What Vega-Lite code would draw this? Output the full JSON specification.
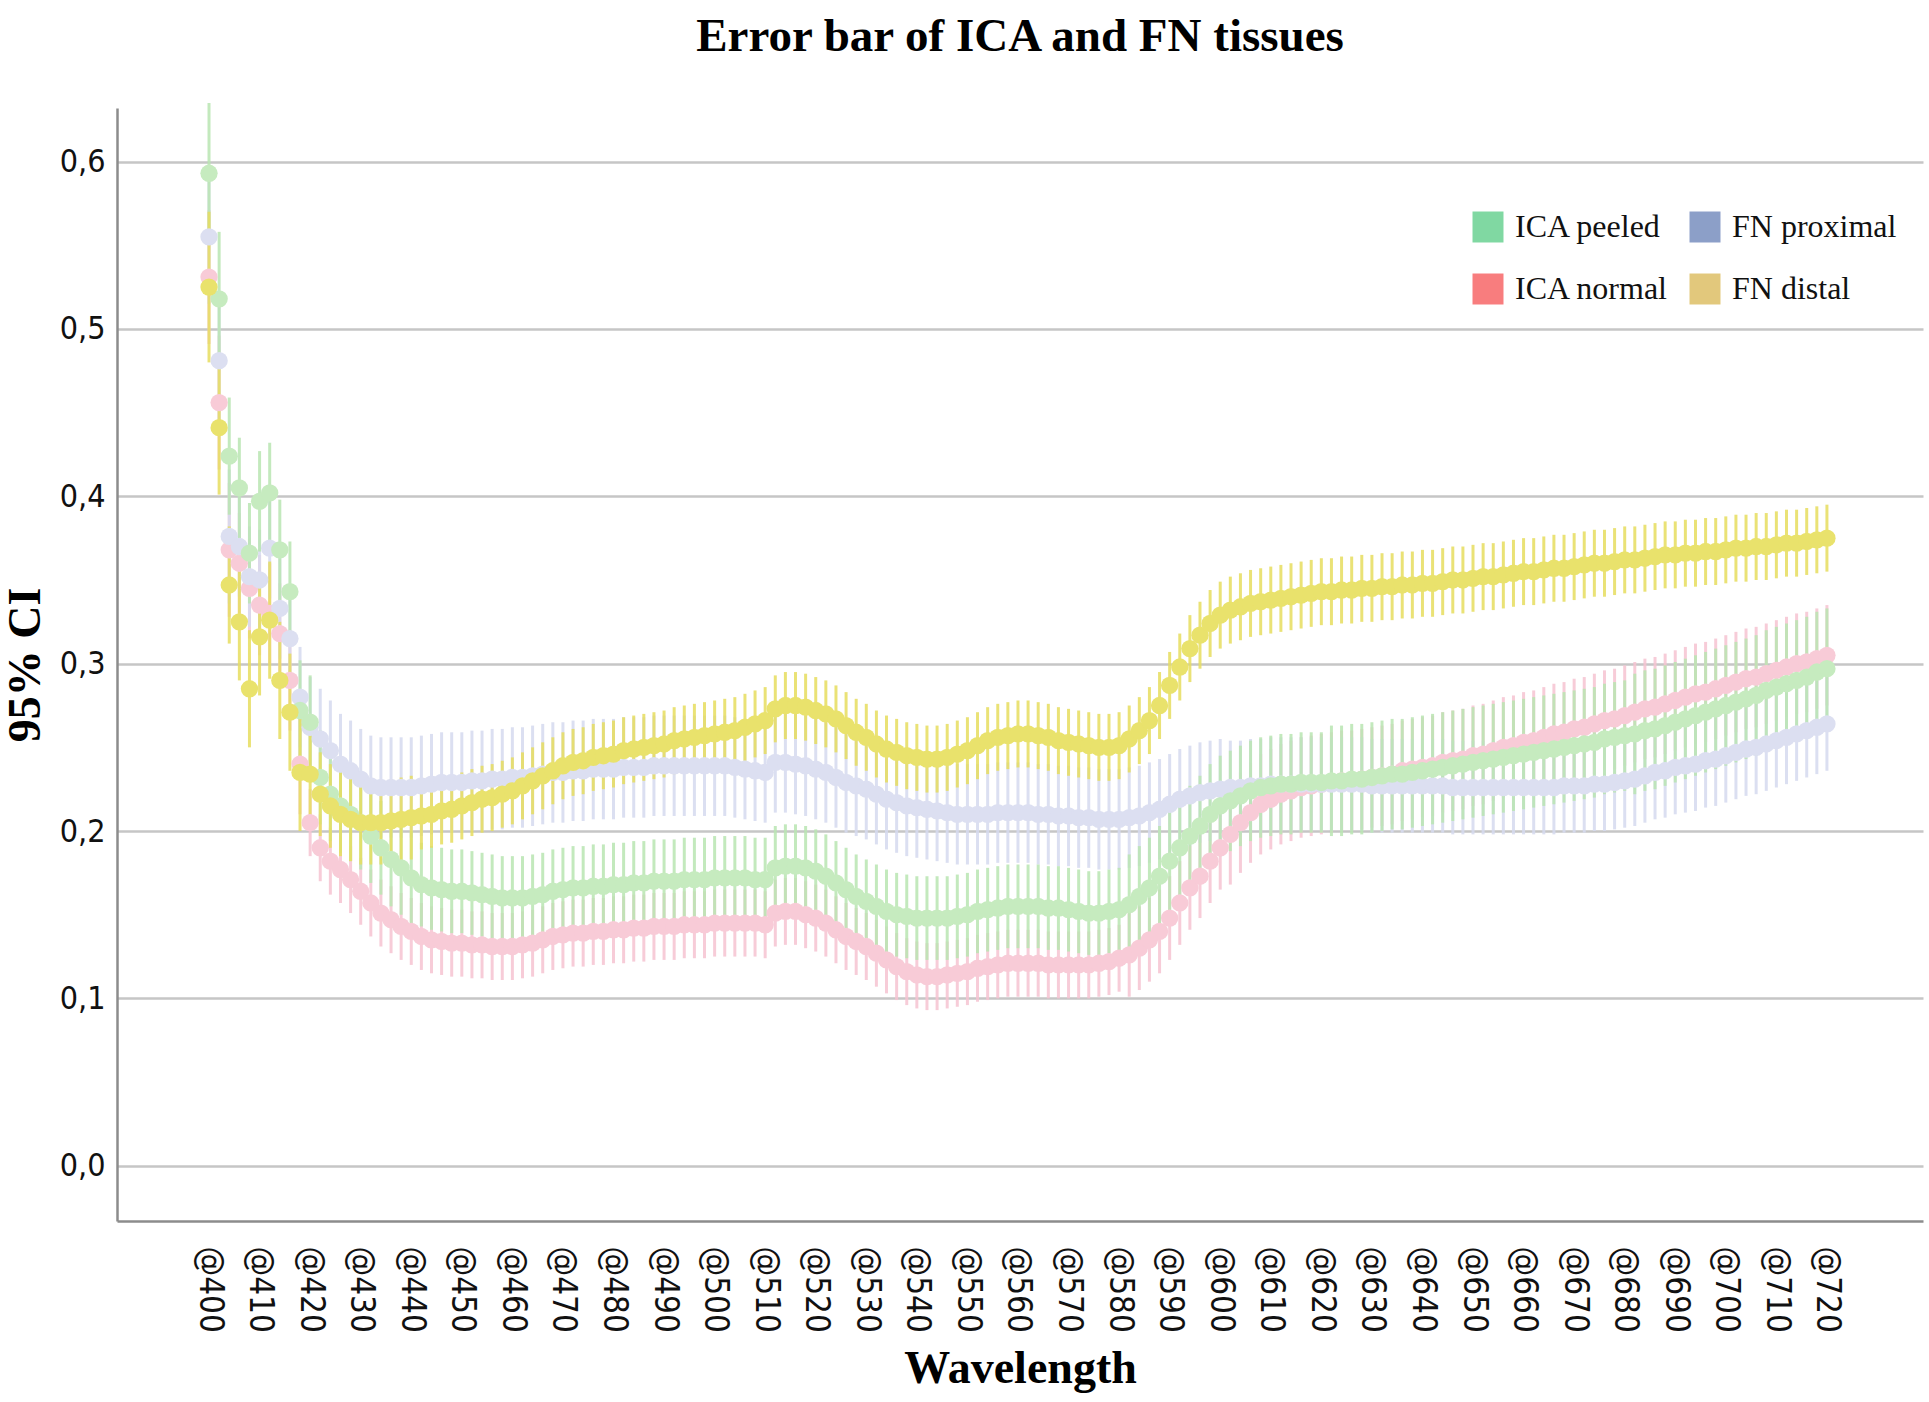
{
  "$schema": "https://vega.github.io/schema/vega-lite/v6.json",
  "width": 1806,
  "height": 1113,
  "autosize": {"type": "none"},
  "padding": {"left": 117, "top": 108, "right": 6, "bottom": 181},
  "background": "white",
  "title": {
    "text": "Error bar of ICA and FN tissues",
    "font": "Liberation Serif",
    "fontSize": 47,
    "fontWeight": "bold",
    "color": "#000000",
    "anchor": "middle",
    "offset": 40
  },
  "config": {
    "view": {"stroke": null},
    "axis": {
      "domainColor": "#8c8c8c",
      "domainWidth": 2.5,
      "ticks": false,
      "labelColor": "#111111",
      "labelFont": "Liberation Sans Narrow, DejaVu Sans Condensed, sans-serif",
      "labelFontSize": 33,
      "titleFont": "Liberation Serif",
      "titleFontSize": 46,
      "titleFontWeight": "bold",
      "titleColor": "#000000"
    }
  },
  "data": {"values": [
    {"w":400,"s":"ICA normal","m":0.531,"e":0.04},{"w":402,"s":"ICA normal","m":0.456,"e":0.04},{"w":404,"s":"ICA normal","m":0.368,"e":0.04},{"w":406,"s":"ICA normal","m":0.36,"e":0.03},{"w":408,"s":"ICA normal","m":0.345,"e":0.03},{"w":410,"s":"ICA normal","m":0.335,"e":0.03},{"w":412,"s":"ICA normal","m":0.33,"e":0.03},{"w":414,"s":"ICA normal","m":0.318,"e":0.03},{"w":416,"s":"ICA normal","m":0.29,"e":0.03},{"w":418,"s":"ICA normal","m":0.24,"e":0.03},
    {"w":420,"s":"ICA normal","m":0.205,"e":0.02},{"w":422,"s":"ICA normal","m":0.19,"e":0.02},{"w":424,"s":"ICA normal","m":0.182,"e":0.02},{"w":426,"s":"ICA normal","m":0.177,"e":0.02},{"w":428,"s":"ICA normal","m":0.171,"e":0.02},{"w":430,"s":"ICA normal","m":0.164,"e":0.02},{"w":432,"s":"ICA normal","m":0.157,"e":0.02},{"w":434,"s":"ICA normal","m":0.151,"e":0.02},{"w":436,"s":"ICA normal","m":0.147,"e":0.02},{"w":438,"s":"ICA normal","m":0.143,"e":0.02},
    {"w":440,"s":"ICA normal","m":0.14,"e":0.02},{"w":442,"s":"ICA normal","m":0.137,"e":0.02},{"w":444,"s":"ICA normal","m":0.135,"e":0.02},{"w":446,"s":"ICA normal","m":0.134,"e":0.02},{"w":448,"s":"ICA normal","m":0.133,"e":0.02},{"w":450,"s":"ICA normal","m":0.133,"e":0.02},{"w":452,"s":"ICA normal","m":0.132,"e":0.02},{"w":454,"s":"ICA normal","m":0.132,"e":0.02},{"w":456,"s":"ICA normal","m":0.131,"e":0.02},{"w":458,"s":"ICA normal","m":0.131,"e":0.02},
    {"w":460,"s":"ICA normal","m":0.131,"e":0.02},{"w":462,"s":"ICA normal","m":0.132,"e":0.02},{"w":464,"s":"ICA normal","m":0.133,"e":0.02},{"w":466,"s":"ICA normal","m":0.135,"e":0.02},{"w":468,"s":"ICA normal","m":0.137,"e":0.02},{"w":470,"s":"ICA normal","m":0.138,"e":0.02},{"w":472,"s":"ICA normal","m":0.139,"e":0.02},{"w":474,"s":"ICA normal","m":0.139,"e":0.02},{"w":476,"s":"ICA normal","m":0.14,"e":0.02},{"w":478,"s":"ICA normal","m":0.14,"e":0.02},
    {"w":480,"s":"ICA normal","m":0.141,"e":0.02},{"w":482,"s":"ICA normal","m":0.141,"e":0.02},{"w":484,"s":"ICA normal","m":0.142,"e":0.02},{"w":486,"s":"ICA normal","m":0.142,"e":0.02},{"w":488,"s":"ICA normal","m":0.143,"e":0.02},{"w":490,"s":"ICA normal","m":0.143,"e":0.02},{"w":492,"s":"ICA normal","m":0.143,"e":0.02},{"w":494,"s":"ICA normal","m":0.144,"e":0.02},{"w":496,"s":"ICA normal","m":0.144,"e":0.02},{"w":498,"s":"ICA normal","m":0.144,"e":0.02},
    {"w":500,"s":"ICA normal","m":0.145,"e":0.02},{"w":502,"s":"ICA normal","m":0.145,"e":0.02},{"w":504,"s":"ICA normal","m":0.145,"e":0.02},{"w":506,"s":"ICA normal","m":0.145,"e":0.02},{"w":508,"s":"ICA normal","m":0.145,"e":0.02},{"w":510,"s":"ICA normal","m":0.144,"e":0.02},{"w":512,"s":"ICA normal","m":0.151,"e":0.02},{"w":514,"s":"ICA normal","m":0.152,"e":0.02},{"w":516,"s":"ICA normal","m":0.152,"e":0.02},{"w":518,"s":"ICA normal","m":0.15,"e":0.02},
    {"w":520,"s":"ICA normal","m":0.148,"e":0.02},{"w":522,"s":"ICA normal","m":0.145,"e":0.02},{"w":524,"s":"ICA normal","m":0.141,"e":0.02},{"w":526,"s":"ICA normal","m":0.137,"e":0.02},{"w":528,"s":"ICA normal","m":0.134,"e":0.02},{"w":530,"s":"ICA normal","m":0.131,"e":0.02},{"w":532,"s":"ICA normal","m":0.127,"e":0.02},{"w":534,"s":"ICA normal","m":0.123,"e":0.02},{"w":536,"s":"ICA normal","m":0.119,"e":0.02},{"w":538,"s":"ICA normal","m":0.116,"e":0.02},
    {"w":540,"s":"ICA normal","m":0.114,"e":0.02},{"w":542,"s":"ICA normal","m":0.113,"e":0.02},{"w":544,"s":"ICA normal","m":0.113,"e":0.02},{"w":546,"s":"ICA normal","m":0.114,"e":0.02},{"w":548,"s":"ICA normal","m":0.115,"e":0.02},{"w":550,"s":"ICA normal","m":0.116,"e":0.02},{"w":552,"s":"ICA normal","m":0.118,"e":0.02},{"w":554,"s":"ICA normal","m":0.119,"e":0.02},{"w":556,"s":"ICA normal","m":0.12,"e":0.02},{"w":558,"s":"ICA normal","m":0.121,"e":0.02},
    {"w":560,"s":"ICA normal","m":0.121,"e":0.02},{"w":562,"s":"ICA normal","m":0.121,"e":0.02},{"w":564,"s":"ICA normal","m":0.121,"e":0.02},{"w":566,"s":"ICA normal","m":0.12,"e":0.02},{"w":568,"s":"ICA normal","m":0.12,"e":0.02},{"w":570,"s":"ICA normal","m":0.12,"e":0.02},{"w":572,"s":"ICA normal","m":0.12,"e":0.02},{"w":574,"s":"ICA normal","m":0.12,"e":0.02},{"w":576,"s":"ICA normal","m":0.121,"e":0.02},{"w":578,"s":"ICA normal","m":0.122,"e":0.02},
    {"w":580,"s":"ICA normal","m":0.124,"e":0.02},{"w":582,"s":"ICA normal","m":0.126,"e":0.025},{"w":584,"s":"ICA normal","m":0.13,"e":0.025},{"w":586,"s":"ICA normal","m":0.135,"e":0.025},{"w":588,"s":"ICA normal","m":0.14,"e":0.025},{"w":590,"s":"ICA normal","m":0.148,"e":0.025},{"w":592,"s":"ICA normal","m":0.157,"e":0.025},{"w":594,"s":"ICA normal","m":0.166,"e":0.025},{"w":596,"s":"ICA normal","m":0.173,"e":0.025},{"w":598,"s":"ICA normal","m":0.182,"e":0.025},
    {"w":600,"s":"ICA normal","m":0.19,"e":0.025},{"w":602,"s":"ICA normal","m":0.198,"e":0.03},{"w":604,"s":"ICA normal","m":0.205,"e":0.03},{"w":606,"s":"ICA normal","m":0.211,"e":0.03},{"w":608,"s":"ICA normal","m":0.216,"e":0.03},{"w":610,"s":"ICA normal","m":0.219,"e":0.03},{"w":612,"s":"ICA normal","m":0.222,"e":0.03},{"w":614,"s":"ICA normal","m":0.224,"e":0.03},{"w":616,"s":"ICA normal","m":0.226,"e":0.03},{"w":618,"s":"ICA normal","m":0.227,"e":0.03},
    {"w":620,"s":"ICA normal","m":0.228,"e":0.03},{"w":622,"s":"ICA normal","m":0.229,"e":0.03},{"w":624,"s":"ICA normal","m":0.23,"e":0.03},{"w":626,"s":"ICA normal","m":0.23,"e":0.03},{"w":628,"s":"ICA normal","m":0.231,"e":0.03},{"w":630,"s":"ICA normal","m":0.232,"e":0.03},{"w":632,"s":"ICA normal","m":0.233,"e":0.03},{"w":634,"s":"ICA normal","m":0.234,"e":0.03},{"w":636,"s":"ICA normal","m":0.236,"e":0.03},{"w":638,"s":"ICA normal","m":0.237,"e":0.03},
    {"w":640,"s":"ICA normal","m":0.238,"e":0.03},{"w":642,"s":"ICA normal","m":0.239,"e":0.03},{"w":644,"s":"ICA normal","m":0.241,"e":0.03},{"w":646,"s":"ICA normal","m":0.242,"e":0.03},{"w":648,"s":"ICA normal","m":0.243,"e":0.03},{"w":650,"s":"ICA normal","m":0.245,"e":0.03},{"w":652,"s":"ICA normal","m":0.246,"e":0.03},{"w":654,"s":"ICA normal","m":0.248,"e":0.03},{"w":656,"s":"ICA normal","m":0.25,"e":0.03},{"w":658,"s":"ICA normal","m":0.251,"e":0.03},
    {"w":660,"s":"ICA normal","m":0.253,"e":0.03},{"w":662,"s":"ICA normal","m":0.254,"e":0.03},{"w":664,"s":"ICA normal","m":0.256,"e":0.03},{"w":666,"s":"ICA normal","m":0.258,"e":0.03},{"w":668,"s":"ICA normal","m":0.259,"e":0.03},{"w":670,"s":"ICA normal","m":0.261,"e":0.03},{"w":672,"s":"ICA normal","m":0.262,"e":0.03},{"w":674,"s":"ICA normal","m":0.264,"e":0.03},{"w":676,"s":"ICA normal","m":0.266,"e":0.03},{"w":678,"s":"ICA normal","m":0.267,"e":0.03},
    {"w":680,"s":"ICA normal","m":0.269,"e":0.03},{"w":682,"s":"ICA normal","m":0.271,"e":0.03},{"w":684,"s":"ICA normal","m":0.273,"e":0.03},{"w":686,"s":"ICA normal","m":0.274,"e":0.03},{"w":688,"s":"ICA normal","m":0.276,"e":0.03},{"w":690,"s":"ICA normal","m":0.278,"e":0.03},{"w":692,"s":"ICA normal","m":0.28,"e":0.03},{"w":694,"s":"ICA normal","m":0.282,"e":0.03},{"w":696,"s":"ICA normal","m":0.283,"e":0.03},{"w":698,"s":"ICA normal","m":0.285,"e":0.03},
    {"w":700,"s":"ICA normal","m":0.287,"e":0.03},{"w":702,"s":"ICA normal","m":0.289,"e":0.03},{"w":704,"s":"ICA normal","m":0.291,"e":0.03},{"w":706,"s":"ICA normal","m":0.292,"e":0.03},{"w":708,"s":"ICA normal","m":0.294,"e":0.03},{"w":710,"s":"ICA normal","m":0.296,"e":0.03},{"w":712,"s":"ICA normal","m":0.298,"e":0.03},{"w":714,"s":"ICA normal","m":0.3,"e":0.03},{"w":716,"s":"ICA normal","m":0.301,"e":0.03},{"w":718,"s":"ICA normal","m":0.303,"e":0.03},
    {"w":720,"s":"ICA normal","m":0.305,"e":0.03},

    {"w":400,"s":"FN proximal","m":0.555,"e":0.04},{"w":402,"s":"FN proximal","m":0.481,"e":0.04},{"w":404,"s":"FN proximal","m":0.376,"e":0.04},{"w":406,"s":"FN proximal","m":0.37,"e":0.03},{"w":408,"s":"FN proximal","m":0.352,"e":0.03},{"w":410,"s":"FN proximal","m":0.35,"e":0.03},{"w":412,"s":"FN proximal","m":0.369,"e":0.03},{"w":414,"s":"FN proximal","m":0.333,"e":0.03},{"w":416,"s":"FN proximal","m":0.315,"e":0.03},{"w":418,"s":"FN proximal","m":0.28,"e":0.03},
    {"w":420,"s":"FN proximal","m":0.262,"e":0.03},{"w":422,"s":"FN proximal","m":0.255,"e":0.03},{"w":424,"s":"FN proximal","m":0.248,"e":0.03},{"w":426,"s":"FN proximal","m":0.24,"e":0.03},{"w":428,"s":"FN proximal","m":0.236,"e":0.03},{"w":430,"s":"FN proximal","m":0.231,"e":0.03},{"w":432,"s":"FN proximal","m":0.227,"e":0.03},{"w":434,"s":"FN proximal","m":0.226,"e":0.03},{"w":436,"s":"FN proximal","m":0.226,"e":0.03},{"w":438,"s":"FN proximal","m":0.226,"e":0.03},
    {"w":440,"s":"FN proximal","m":0.226,"e":0.03},{"w":442,"s":"FN proximal","m":0.227,"e":0.03},{"w":444,"s":"FN proximal","m":0.228,"e":0.03},{"w":446,"s":"FN proximal","m":0.229,"e":0.03},{"w":448,"s":"FN proximal","m":0.229,"e":0.03},{"w":450,"s":"FN proximal","m":0.229,"e":0.03},{"w":452,"s":"FN proximal","m":0.23,"e":0.03},{"w":454,"s":"FN proximal","m":0.23,"e":0.03},{"w":456,"s":"FN proximal","m":0.231,"e":0.03},{"w":458,"s":"FN proximal","m":0.231,"e":0.03},
    {"w":460,"s":"FN proximal","m":0.232,"e":0.03},{"w":462,"s":"FN proximal","m":0.232,"e":0.03},{"w":464,"s":"FN proximal","m":0.233,"e":0.03},{"w":466,"s":"FN proximal","m":0.234,"e":0.03},{"w":468,"s":"FN proximal","m":0.235,"e":0.03},{"w":470,"s":"FN proximal","m":0.235,"e":0.03},{"w":472,"s":"FN proximal","m":0.236,"e":0.03},{"w":474,"s":"FN proximal","m":0.236,"e":0.03},{"w":476,"s":"FN proximal","m":0.237,"e":0.03},{"w":478,"s":"FN proximal","m":0.237,"e":0.03},
    {"w":480,"s":"FN proximal","m":0.237,"e":0.03},{"w":482,"s":"FN proximal","m":0.238,"e":0.03},{"w":484,"s":"FN proximal","m":0.238,"e":0.03},{"w":486,"s":"FN proximal","m":0.238,"e":0.03},{"w":488,"s":"FN proximal","m":0.239,"e":0.03},{"w":490,"s":"FN proximal","m":0.239,"e":0.03},{"w":492,"s":"FN proximal","m":0.239,"e":0.03},{"w":494,"s":"FN proximal","m":0.239,"e":0.03},{"w":496,"s":"FN proximal","m":0.239,"e":0.03},{"w":498,"s":"FN proximal","m":0.239,"e":0.03},
    {"w":500,"s":"FN proximal","m":0.239,"e":0.03},{"w":502,"s":"FN proximal","m":0.239,"e":0.03},{"w":504,"s":"FN proximal","m":0.238,"e":0.03},{"w":506,"s":"FN proximal","m":0.237,"e":0.03},{"w":508,"s":"FN proximal","m":0.236,"e":0.03},{"w":510,"s":"FN proximal","m":0.235,"e":0.03},{"w":512,"s":"FN proximal","m":0.241,"e":0.03},{"w":514,"s":"FN proximal","m":0.241,"e":0.03},{"w":516,"s":"FN proximal","m":0.24,"e":0.03},{"w":518,"s":"FN proximal","m":0.239,"e":0.03},
    {"w":520,"s":"FN proximal","m":0.237,"e":0.03},{"w":522,"s":"FN proximal","m":0.235,"e":0.03},{"w":524,"s":"FN proximal","m":0.232,"e":0.03},{"w":526,"s":"FN proximal","m":0.229,"e":0.03},{"w":528,"s":"FN proximal","m":0.227,"e":0.03},{"w":530,"s":"FN proximal","m":0.225,"e":0.03},{"w":532,"s":"FN proximal","m":0.222,"e":0.03},{"w":534,"s":"FN proximal","m":0.219,"e":0.03},{"w":536,"s":"FN proximal","m":0.217,"e":0.03},{"w":538,"s":"FN proximal","m":0.215,"e":0.03},
    {"w":540,"s":"FN proximal","m":0.214,"e":0.03},{"w":542,"s":"FN proximal","m":0.213,"e":0.03},{"w":544,"s":"FN proximal","m":0.212,"e":0.03},{"w":546,"s":"FN proximal","m":0.211,"e":0.03},{"w":548,"s":"FN proximal","m":0.21,"e":0.03},{"w":550,"s":"FN proximal","m":0.21,"e":0.03},{"w":552,"s":"FN proximal","m":0.21,"e":0.03},{"w":554,"s":"FN proximal","m":0.21,"e":0.03},{"w":556,"s":"FN proximal","m":0.211,"e":0.03},{"w":558,"s":"FN proximal","m":0.211,"e":0.03},
    {"w":560,"s":"FN proximal","m":0.211,"e":0.03},{"w":562,"s":"FN proximal","m":0.211,"e":0.03},{"w":564,"s":"FN proximal","m":0.21,"e":0.03},{"w":566,"s":"FN proximal","m":0.21,"e":0.03},{"w":568,"s":"FN proximal","m":0.209,"e":0.03},{"w":570,"s":"FN proximal","m":0.209,"e":0.03},{"w":572,"s":"FN proximal","m":0.208,"e":0.03},{"w":574,"s":"FN proximal","m":0.208,"e":0.03},{"w":576,"s":"FN proximal","m":0.207,"e":0.03},{"w":578,"s":"FN proximal","m":0.207,"e":0.03},
    {"w":580,"s":"FN proximal","m":0.207,"e":0.03},{"w":582,"s":"FN proximal","m":0.208,"e":0.03},{"w":584,"s":"FN proximal","m":0.209,"e":0.03},{"w":586,"s":"FN proximal","m":0.211,"e":0.03},{"w":588,"s":"FN proximal","m":0.213,"e":0.03},{"w":590,"s":"FN proximal","m":0.216,"e":0.03},{"w":592,"s":"FN proximal","m":0.219,"e":0.03},{"w":594,"s":"FN proximal","m":0.221,"e":0.03},{"w":596,"s":"FN proximal","m":0.223,"e":0.03},{"w":598,"s":"FN proximal","m":0.224,"e":0.03},
    {"w":600,"s":"FN proximal","m":0.225,"e":0.03},{"w":602,"s":"FN proximal","m":0.226,"e":0.028},{"w":604,"s":"FN proximal","m":0.226,"e":0.028},{"w":606,"s":"FN proximal","m":0.227,"e":0.028},{"w":608,"s":"FN proximal","m":0.227,"e":0.028},{"w":610,"s":"FN proximal","m":0.228,"e":0.028},{"w":612,"s":"FN proximal","m":0.228,"e":0.028},{"w":614,"s":"FN proximal","m":0.228,"e":0.028},{"w":616,"s":"FN proximal","m":0.228,"e":0.028},{"w":618,"s":"FN proximal","m":0.228,"e":0.028},
    {"w":620,"s":"FN proximal","m":0.228,"e":0.028},{"w":622,"s":"FN proximal","m":0.228,"e":0.028},{"w":624,"s":"FN proximal","m":0.228,"e":0.028},{"w":626,"s":"FN proximal","m":0.228,"e":0.028},{"w":628,"s":"FN proximal","m":0.228,"e":0.028},{"w":630,"s":"FN proximal","m":0.227,"e":0.028},{"w":632,"s":"FN proximal","m":0.227,"e":0.028},{"w":634,"s":"FN proximal","m":0.227,"e":0.028},{"w":636,"s":"FN proximal","m":0.227,"e":0.028},{"w":638,"s":"FN proximal","m":0.227,"e":0.028},
    {"w":640,"s":"FN proximal","m":0.227,"e":0.028},{"w":642,"s":"FN proximal","m":0.227,"e":0.028},{"w":644,"s":"FN proximal","m":0.227,"e":0.028},{"w":646,"s":"FN proximal","m":0.226,"e":0.028},{"w":648,"s":"FN proximal","m":0.226,"e":0.028},{"w":650,"s":"FN proximal","m":0.226,"e":0.028},{"w":652,"s":"FN proximal","m":0.226,"e":0.028},{"w":654,"s":"FN proximal","m":0.226,"e":0.028},{"w":656,"s":"FN proximal","m":0.226,"e":0.028},{"w":658,"s":"FN proximal","m":0.226,"e":0.028},
    {"w":660,"s":"FN proximal","m":0.226,"e":0.028},{"w":662,"s":"FN proximal","m":0.226,"e":0.028},{"w":664,"s":"FN proximal","m":0.226,"e":0.028},{"w":666,"s":"FN proximal","m":0.226,"e":0.028},{"w":668,"s":"FN proximal","m":0.227,"e":0.028},{"w":670,"s":"FN proximal","m":0.227,"e":0.028},{"w":672,"s":"FN proximal","m":0.227,"e":0.028},{"w":674,"s":"FN proximal","m":0.228,"e":0.028},{"w":676,"s":"FN proximal","m":0.228,"e":0.028},{"w":678,"s":"FN proximal","m":0.229,"e":0.028},
    {"w":680,"s":"FN proximal","m":0.23,"e":0.028},{"w":682,"s":"FN proximal","m":0.231,"e":0.028},{"w":684,"s":"FN proximal","m":0.233,"e":0.028},{"w":686,"s":"FN proximal","m":0.235,"e":0.028},{"w":688,"s":"FN proximal","m":0.236,"e":0.028},{"w":690,"s":"FN proximal","m":0.238,"e":0.028},{"w":692,"s":"FN proximal","m":0.239,"e":0.028},{"w":694,"s":"FN proximal","m":0.24,"e":0.028},{"w":696,"s":"FN proximal","m":0.242,"e":0.028},{"w":698,"s":"FN proximal","m":0.243,"e":0.028},
    {"w":700,"s":"FN proximal","m":0.245,"e":0.028},{"w":702,"s":"FN proximal","m":0.247,"e":0.028},{"w":704,"s":"FN proximal","m":0.249,"e":0.028},{"w":706,"s":"FN proximal","m":0.25,"e":0.028},{"w":708,"s":"FN proximal","m":0.252,"e":0.028},{"w":710,"s":"FN proximal","m":0.254,"e":0.028},{"w":712,"s":"FN proximal","m":0.256,"e":0.028},{"w":714,"s":"FN proximal","m":0.258,"e":0.028},{"w":716,"s":"FN proximal","m":0.26,"e":0.028},{"w":718,"s":"FN proximal","m":0.262,"e":0.028},
    {"w":720,"s":"FN proximal","m":0.264,"e":0.028},

    {"w":400,"s":"ICA peeled","m":0.593,"e":0.042},{"w":402,"s":"ICA peeled","m":0.518,"e":0.04},{"w":404,"s":"ICA peeled","m":0.424,"e":0.035},{"w":406,"s":"ICA peeled","m":0.405,"e":0.03},{"w":408,"s":"ICA peeled","m":0.366,"e":0.03},{"w":410,"s":"ICA peeled","m":0.397,"e":0.03},{"w":412,"s":"ICA peeled","m":0.402,"e":0.03},{"w":414,"s":"ICA peeled","m":0.368,"e":0.03},{"w":416,"s":"ICA peeled","m":0.343,"e":0.03},{"w":418,"s":"ICA peeled","m":0.272,"e":0.03},
    {"w":420,"s":"ICA peeled","m":0.265,"e":0.028},{"w":422,"s":"ICA peeled","m":0.232,"e":0.028},{"w":424,"s":"ICA peeled","m":0.222,"e":0.028},{"w":426,"s":"ICA peeled","m":0.215,"e":0.028},{"w":428,"s":"ICA peeled","m":0.21,"e":0.028},{"w":430,"s":"ICA peeled","m":0.205,"e":0.028},{"w":432,"s":"ICA peeled","m":0.197,"e":0.028},{"w":434,"s":"ICA peeled","m":0.19,"e":0.028},{"w":436,"s":"ICA peeled","m":0.183,"e":0.028},{"w":438,"s":"ICA peeled","m":0.178,"e":0.028},
    {"w":440,"s":"ICA peeled","m":0.172,"e":0.028},{"w":442,"s":"ICA peeled","m":0.168,"e":0.025},{"w":444,"s":"ICA peeled","m":0.166,"e":0.025},{"w":446,"s":"ICA peeled","m":0.165,"e":0.025},{"w":448,"s":"ICA peeled","m":0.164,"e":0.025},{"w":450,"s":"ICA peeled","m":0.164,"e":0.025},{"w":452,"s":"ICA peeled","m":0.163,"e":0.025},{"w":454,"s":"ICA peeled","m":0.162,"e":0.025},{"w":456,"s":"ICA peeled","m":0.161,"e":0.025},{"w":458,"s":"ICA peeled","m":0.16,"e":0.025},
    {"w":460,"s":"ICA peeled","m":0.16,"e":0.025},{"w":462,"s":"ICA peeled","m":0.16,"e":0.025},{"w":464,"s":"ICA peeled","m":0.161,"e":0.025},{"w":466,"s":"ICA peeled","m":0.162,"e":0.025},{"w":468,"s":"ICA peeled","m":0.164,"e":0.025},{"w":470,"s":"ICA peeled","m":0.165,"e":0.025},{"w":472,"s":"ICA peeled","m":0.166,"e":0.025},{"w":474,"s":"ICA peeled","m":0.166,"e":0.025},{"w":476,"s":"ICA peeled","m":0.167,"e":0.025},{"w":478,"s":"ICA peeled","m":0.167,"e":0.025},
    {"w":480,"s":"ICA peeled","m":0.168,"e":0.025},{"w":482,"s":"ICA peeled","m":0.168,"e":0.025},{"w":484,"s":"ICA peeled","m":0.169,"e":0.025},{"w":486,"s":"ICA peeled","m":0.169,"e":0.025},{"w":488,"s":"ICA peeled","m":0.17,"e":0.025},{"w":490,"s":"ICA peeled","m":0.17,"e":0.025},{"w":492,"s":"ICA peeled","m":0.17,"e":0.025},{"w":494,"s":"ICA peeled","m":0.171,"e":0.025},{"w":496,"s":"ICA peeled","m":0.171,"e":0.025},{"w":498,"s":"ICA peeled","m":0.171,"e":0.025},
    {"w":500,"s":"ICA peeled","m":0.172,"e":0.025},{"w":502,"s":"ICA peeled","m":0.172,"e":0.025},{"w":504,"s":"ICA peeled","m":0.172,"e":0.025},{"w":506,"s":"ICA peeled","m":0.172,"e":0.025},{"w":508,"s":"ICA peeled","m":0.171,"e":0.025},{"w":510,"s":"ICA peeled","m":0.171,"e":0.025},{"w":512,"s":"ICA peeled","m":0.178,"e":0.025},{"w":514,"s":"ICA peeled","m":0.179,"e":0.025},{"w":516,"s":"ICA peeled","m":0.179,"e":0.025},{"w":518,"s":"ICA peeled","m":0.178,"e":0.025},
    {"w":520,"s":"ICA peeled","m":0.176,"e":0.025},{"w":522,"s":"ICA peeled","m":0.173,"e":0.025},{"w":524,"s":"ICA peeled","m":0.169,"e":0.025},{"w":526,"s":"ICA peeled","m":0.165,"e":0.025},{"w":528,"s":"ICA peeled","m":0.161,"e":0.025},{"w":530,"s":"ICA peeled","m":0.158,"e":0.025},{"w":532,"s":"ICA peeled","m":0.155,"e":0.025},{"w":534,"s":"ICA peeled","m":0.152,"e":0.025},{"w":536,"s":"ICA peeled","m":0.15,"e":0.025},{"w":538,"s":"ICA peeled","m":0.149,"e":0.025},
    {"w":540,"s":"ICA peeled","m":0.148,"e":0.025},{"w":542,"s":"ICA peeled","m":0.148,"e":0.025},{"w":544,"s":"ICA peeled","m":0.148,"e":0.025},{"w":546,"s":"ICA peeled","m":0.148,"e":0.025},{"w":548,"s":"ICA peeled","m":0.149,"e":0.025},{"w":550,"s":"ICA peeled","m":0.15,"e":0.025},{"w":552,"s":"ICA peeled","m":0.152,"e":0.025},{"w":554,"s":"ICA peeled","m":0.153,"e":0.025},{"w":556,"s":"ICA peeled","m":0.154,"e":0.025},{"w":558,"s":"ICA peeled","m":0.155,"e":0.025},
    {"w":560,"s":"ICA peeled","m":0.155,"e":0.025},{"w":562,"s":"ICA peeled","m":0.155,"e":0.025},{"w":564,"s":"ICA peeled","m":0.155,"e":0.025},{"w":566,"s":"ICA peeled","m":0.154,"e":0.025},{"w":568,"s":"ICA peeled","m":0.154,"e":0.025},{"w":570,"s":"ICA peeled","m":0.153,"e":0.025},{"w":572,"s":"ICA peeled","m":0.152,"e":0.025},{"w":574,"s":"ICA peeled","m":0.151,"e":0.025},{"w":576,"s":"ICA peeled","m":0.151,"e":0.025},{"w":578,"s":"ICA peeled","m":0.152,"e":0.025},
    {"w":580,"s":"ICA peeled","m":0.153,"e":0.025},{"w":582,"s":"ICA peeled","m":0.156,"e":0.03},{"w":584,"s":"ICA peeled","m":0.161,"e":0.03},{"w":586,"s":"ICA peeled","m":0.166,"e":0.03},{"w":588,"s":"ICA peeled","m":0.173,"e":0.03},{"w":590,"s":"ICA peeled","m":0.182,"e":0.03},{"w":592,"s":"ICA peeled","m":0.19,"e":0.03},{"w":594,"s":"ICA peeled","m":0.197,"e":0.03},{"w":596,"s":"ICA peeled","m":0.203,"e":0.03},{"w":598,"s":"ICA peeled","m":0.21,"e":0.03},
    {"w":600,"s":"ICA peeled","m":0.215,"e":0.03},{"w":602,"s":"ICA peeled","m":0.218,"e":0.03},{"w":604,"s":"ICA peeled","m":0.221,"e":0.03},{"w":606,"s":"ICA peeled","m":0.224,"e":0.03},{"w":608,"s":"ICA peeled","m":0.226,"e":0.03},{"w":610,"s":"ICA peeled","m":0.227,"e":0.03},{"w":612,"s":"ICA peeled","m":0.228,"e":0.03},{"w":614,"s":"ICA peeled","m":0.228,"e":0.03},{"w":616,"s":"ICA peeled","m":0.229,"e":0.03},{"w":618,"s":"ICA peeled","m":0.229,"e":0.03},
    {"w":620,"s":"ICA peeled","m":0.229,"e":0.03},{"w":622,"s":"ICA peeled","m":0.23,"e":0.033},{"w":624,"s":"ICA peeled","m":0.23,"e":0.033},{"w":626,"s":"ICA peeled","m":0.231,"e":0.033},{"w":628,"s":"ICA peeled","m":0.231,"e":0.033},{"w":630,"s":"ICA peeled","m":0.232,"e":0.033},{"w":632,"s":"ICA peeled","m":0.233,"e":0.033},{"w":634,"s":"ICA peeled","m":0.234,"e":0.033},{"w":636,"s":"ICA peeled","m":0.234,"e":0.033},{"w":638,"s":"ICA peeled","m":0.235,"e":0.033},
    {"w":640,"s":"ICA peeled","m":0.236,"e":0.033},{"w":642,"s":"ICA peeled","m":0.237,"e":0.033},{"w":644,"s":"ICA peeled","m":0.238,"e":0.033},{"w":646,"s":"ICA peeled","m":0.239,"e":0.033},{"w":648,"s":"ICA peeled","m":0.24,"e":0.033},{"w":650,"s":"ICA peeled","m":0.241,"e":0.033},{"w":652,"s":"ICA peeled","m":0.242,"e":0.033},{"w":654,"s":"ICA peeled","m":0.243,"e":0.033},{"w":656,"s":"ICA peeled","m":0.244,"e":0.033},{"w":658,"s":"ICA peeled","m":0.245,"e":0.033},
    {"w":660,"s":"ICA peeled","m":0.246,"e":0.033},{"w":662,"s":"ICA peeled","m":0.247,"e":0.033},{"w":664,"s":"ICA peeled","m":0.248,"e":0.033},{"w":666,"s":"ICA peeled","m":0.249,"e":0.033},{"w":668,"s":"ICA peeled","m":0.25,"e":0.033},{"w":670,"s":"ICA peeled","m":0.251,"e":0.033},{"w":672,"s":"ICA peeled","m":0.252,"e":0.033},{"w":674,"s":"ICA peeled","m":0.253,"e":0.033},{"w":676,"s":"ICA peeled","m":0.255,"e":0.033},{"w":678,"s":"ICA peeled","m":0.256,"e":0.033},
    {"w":680,"s":"ICA peeled","m":0.257,"e":0.033},{"w":682,"s":"ICA peeled","m":0.258,"e":0.036},{"w":684,"s":"ICA peeled","m":0.26,"e":0.036},{"w":686,"s":"ICA peeled","m":0.261,"e":0.036},{"w":688,"s":"ICA peeled","m":0.263,"e":0.036},{"w":690,"s":"ICA peeled","m":0.265,"e":0.036},{"w":692,"s":"ICA peeled","m":0.267,"e":0.036},{"w":694,"s":"ICA peeled","m":0.269,"e":0.036},{"w":696,"s":"ICA peeled","m":0.271,"e":0.036},{"w":698,"s":"ICA peeled","m":0.273,"e":0.036},
    {"w":700,"s":"ICA peeled","m":0.275,"e":0.036},{"w":702,"s":"ICA peeled","m":0.277,"e":0.036},{"w":704,"s":"ICA peeled","m":0.279,"e":0.036},{"w":706,"s":"ICA peeled","m":0.281,"e":0.036},{"w":708,"s":"ICA peeled","m":0.284,"e":0.036},{"w":710,"s":"ICA peeled","m":0.286,"e":0.036},{"w":712,"s":"ICA peeled","m":0.288,"e":0.036},{"w":714,"s":"ICA peeled","m":0.29,"e":0.036},{"w":716,"s":"ICA peeled","m":0.292,"e":0.036},{"w":718,"s":"ICA peeled","m":0.295,"e":0.036},
    {"w":720,"s":"ICA peeled","m":0.297,"e":0.036},

    {"w":400,"s":"FN distal","m":0.525,"e":0.045},{"w":402,"s":"FN distal","m":0.441,"e":0.04},{"w":404,"s":"FN distal","m":0.347,"e":0.035},{"w":406,"s":"FN distal","m":0.325,"e":0.035},{"w":408,"s":"FN distal","m":0.285,"e":0.035},{"w":410,"s":"FN distal","m":0.316,"e":0.035},{"w":412,"s":"FN distal","m":0.326,"e":0.035},{"w":414,"s":"FN distal","m":0.29,"e":0.035},{"w":416,"s":"FN distal","m":0.271,"e":0.035},{"w":418,"s":"FN distal","m":0.235,"e":0.035},
    {"w":420,"s":"FN distal","m":0.234,"e":0.025},{"w":422,"s":"FN distal","m":0.222,"e":0.025},{"w":424,"s":"FN distal","m":0.215,"e":0.025},{"w":426,"s":"FN distal","m":0.21,"e":0.025},{"w":428,"s":"FN distal","m":0.207,"e":0.025},{"w":430,"s":"FN distal","m":0.205,"e":0.025},{"w":432,"s":"FN distal","m":0.205,"e":0.025},{"w":434,"s":"FN distal","m":0.205,"e":0.025},{"w":436,"s":"FN distal","m":0.206,"e":0.025},{"w":438,"s":"FN distal","m":0.207,"e":0.025},
    {"w":440,"s":"FN distal","m":0.208,"e":0.025},{"w":442,"s":"FN distal","m":0.209,"e":0.02},{"w":444,"s":"FN distal","m":0.21,"e":0.02},{"w":446,"s":"FN distal","m":0.212,"e":0.02},{"w":448,"s":"FN distal","m":0.213,"e":0.02},{"w":450,"s":"FN distal","m":0.215,"e":0.02},{"w":452,"s":"FN distal","m":0.217,"e":0.02},{"w":454,"s":"FN distal","m":0.219,"e":0.02},{"w":456,"s":"FN distal","m":0.22,"e":0.02},{"w":458,"s":"FN distal","m":0.222,"e":0.02},
    {"w":460,"s":"FN distal","m":0.224,"e":0.02},{"w":462,"s":"FN distal","m":0.227,"e":0.02},{"w":464,"s":"FN distal","m":0.23,"e":0.02},{"w":466,"s":"FN distal","m":0.233,"e":0.02},{"w":468,"s":"FN distal","m":0.236,"e":0.02},{"w":470,"s":"FN distal","m":0.239,"e":0.02},{"w":472,"s":"FN distal","m":0.241,"e":0.02},{"w":474,"s":"FN distal","m":0.242,"e":0.02},{"w":476,"s":"FN distal","m":0.244,"e":0.02},{"w":478,"s":"FN distal","m":0.245,"e":0.02},
    {"w":480,"s":"FN distal","m":0.246,"e":0.02},{"w":482,"s":"FN distal","m":0.248,"e":0.02},{"w":484,"s":"FN distal","m":0.249,"e":0.02},{"w":486,"s":"FN distal","m":0.25,"e":0.02},{"w":488,"s":"FN distal","m":0.251,"e":0.02},{"w":490,"s":"FN distal","m":0.252,"e":0.02},{"w":492,"s":"FN distal","m":0.254,"e":0.02},{"w":494,"s":"FN distal","m":0.255,"e":0.02},{"w":496,"s":"FN distal","m":0.256,"e":0.02},{"w":498,"s":"FN distal","m":0.257,"e":0.02},
    {"w":500,"s":"FN distal","m":0.258,"e":0.02},{"w":502,"s":"FN distal","m":0.259,"e":0.02},{"w":504,"s":"FN distal","m":0.26,"e":0.02},{"w":506,"s":"FN distal","m":0.262,"e":0.02},{"w":508,"s":"FN distal","m":0.264,"e":0.02},{"w":510,"s":"FN distal","m":0.266,"e":0.02},{"w":512,"s":"FN distal","m":0.273,"e":0.02},{"w":514,"s":"FN distal","m":0.275,"e":0.02},{"w":516,"s":"FN distal","m":0.275,"e":0.02},{"w":518,"s":"FN distal","m":0.274,"e":0.02},
    {"w":520,"s":"FN distal","m":0.272,"e":0.02},{"w":522,"s":"FN distal","m":0.27,"e":0.02},{"w":524,"s":"FN distal","m":0.267,"e":0.02},{"w":526,"s":"FN distal","m":0.263,"e":0.02},{"w":528,"s":"FN distal","m":0.259,"e":0.02},{"w":530,"s":"FN distal","m":0.256,"e":0.02},{"w":532,"s":"FN distal","m":0.252,"e":0.02},{"w":534,"s":"FN distal","m":0.249,"e":0.02},{"w":536,"s":"FN distal","m":0.247,"e":0.02},{"w":538,"s":"FN distal","m":0.245,"e":0.02},
    {"w":540,"s":"FN distal","m":0.244,"e":0.02},{"w":542,"s":"FN distal","m":0.243,"e":0.02},{"w":544,"s":"FN distal","m":0.243,"e":0.02},{"w":546,"s":"FN distal","m":0.244,"e":0.02},{"w":548,"s":"FN distal","m":0.246,"e":0.02},{"w":550,"s":"FN distal","m":0.248,"e":0.02},{"w":552,"s":"FN distal","m":0.251,"e":0.02},{"w":554,"s":"FN distal","m":0.254,"e":0.02},{"w":556,"s":"FN distal","m":0.256,"e":0.02},{"w":558,"s":"FN distal","m":0.257,"e":0.02},
    {"w":560,"s":"FN distal","m":0.258,"e":0.02},{"w":562,"s":"FN distal","m":0.258,"e":0.02},{"w":564,"s":"FN distal","m":0.257,"e":0.02},{"w":566,"s":"FN distal","m":0.256,"e":0.02},{"w":568,"s":"FN distal","m":0.254,"e":0.02},{"w":570,"s":"FN distal","m":0.253,"e":0.02},{"w":572,"s":"FN distal","m":0.252,"e":0.02},{"w":574,"s":"FN distal","m":0.251,"e":0.02},{"w":576,"s":"FN distal","m":0.25,"e":0.02},{"w":578,"s":"FN distal","m":0.25,"e":0.02},
    {"w":580,"s":"FN distal","m":0.251,"e":0.02},{"w":582,"s":"FN distal","m":0.255,"e":0.02},{"w":584,"s":"FN distal","m":0.26,"e":0.02},{"w":586,"s":"FN distal","m":0.266,"e":0.02},{"w":588,"s":"FN distal","m":0.275,"e":0.02},{"w":590,"s":"FN distal","m":0.287,"e":0.02},{"w":592,"s":"FN distal","m":0.298,"e":0.02},{"w":594,"s":"FN distal","m":0.309,"e":0.02},{"w":596,"s":"FN distal","m":0.317,"e":0.02},{"w":598,"s":"FN distal","m":0.324,"e":0.02},
    {"w":600,"s":"FN distal","m":0.329,"e":0.02},{"w":602,"s":"FN distal","m":0.332,"e":0.02},{"w":604,"s":"FN distal","m":0.334,"e":0.02},{"w":606,"s":"FN distal","m":0.336,"e":0.02},{"w":608,"s":"FN distal","m":0.337,"e":0.02},{"w":610,"s":"FN distal","m":0.338,"e":0.02},{"w":612,"s":"FN distal","m":0.339,"e":0.02},{"w":614,"s":"FN distal","m":0.34,"e":0.02},{"w":616,"s":"FN distal","m":0.341,"e":0.02},{"w":618,"s":"FN distal","m":0.342,"e":0.02},
    {"w":620,"s":"FN distal","m":0.343,"e":0.02},{"w":622,"s":"FN distal","m":0.343,"e":0.02},{"w":624,"s":"FN distal","m":0.344,"e":0.02},{"w":626,"s":"FN distal","m":0.344,"e":0.02},{"w":628,"s":"FN distal","m":0.345,"e":0.02},{"w":630,"s":"FN distal","m":0.345,"e":0.02},{"w":632,"s":"FN distal","m":0.346,"e":0.02},{"w":634,"s":"FN distal","m":0.346,"e":0.02},{"w":636,"s":"FN distal","m":0.347,"e":0.02},{"w":638,"s":"FN distal","m":0.347,"e":0.02},
    {"w":640,"s":"FN distal","m":0.348,"e":0.02},{"w":642,"s":"FN distal","m":0.348,"e":0.02},{"w":644,"s":"FN distal","m":0.349,"e":0.02},{"w":646,"s":"FN distal","m":0.35,"e":0.02},{"w":648,"s":"FN distal","m":0.35,"e":0.02},{"w":650,"s":"FN distal","m":0.351,"e":0.02},{"w":652,"s":"FN distal","m":0.352,"e":0.02},{"w":654,"s":"FN distal","m":0.352,"e":0.02},{"w":656,"s":"FN distal","m":0.353,"e":0.02},{"w":658,"s":"FN distal","m":0.354,"e":0.02},
    {"w":660,"s":"FN distal","m":0.355,"e":0.02},{"w":662,"s":"FN distal","m":0.355,"e":0.02},{"w":664,"s":"FN distal","m":0.356,"e":0.02},{"w":666,"s":"FN distal","m":0.357,"e":0.02},{"w":668,"s":"FN distal","m":0.357,"e":0.02},{"w":670,"s":"FN distal","m":0.358,"e":0.02},{"w":672,"s":"FN distal","m":0.359,"e":0.02},{"w":674,"s":"FN distal","m":0.36,"e":0.02},{"w":676,"s":"FN distal","m":0.36,"e":0.02},{"w":678,"s":"FN distal","m":0.361,"e":0.02},
    {"w":680,"s":"FN distal","m":0.362,"e":0.02},{"w":682,"s":"FN distal","m":0.362,"e":0.02},{"w":684,"s":"FN distal","m":0.363,"e":0.02},{"w":686,"s":"FN distal","m":0.364,"e":0.02},{"w":688,"s":"FN distal","m":0.365,"e":0.02},{"w":690,"s":"FN distal","m":0.365,"e":0.02},{"w":692,"s":"FN distal","m":0.366,"e":0.02},{"w":694,"s":"FN distal","m":0.366,"e":0.02},{"w":696,"s":"FN distal","m":0.367,"e":0.02},{"w":698,"s":"FN distal","m":0.367,"e":0.02},
    {"w":700,"s":"FN distal","m":0.368,"e":0.02},{"w":702,"s":"FN distal","m":0.369,"e":0.02},{"w":704,"s":"FN distal","m":0.369,"e":0.02},{"w":706,"s":"FN distal","m":0.37,"e":0.02},{"w":708,"s":"FN distal","m":0.37,"e":0.02},{"w":710,"s":"FN distal","m":0.371,"e":0.02},{"w":712,"s":"FN distal","m":0.372,"e":0.02},{"w":714,"s":"FN distal","m":0.372,"e":0.02},{"w":716,"s":"FN distal","m":0.373,"e":0.02},{"w":718,"s":"FN distal","m":0.374,"e":0.02},
    {"w":720,"s":"FN distal","m":0.375,"e":0.02}
  ]},
  "encoding": {
    "x": {
      "field": "w",
      "type": "quantitative",
      "scale": {"domain": [381.8, 739], "nice": false, "zero": false},
      "axis": {
        "title": "Wavelength",
        "values": [400,410,420,430,440,450,460,470,480,490,500,510,520,530,540,550,560,570,580,590,600,610,620,630,640,650,660,670,680,690,700,710,720],
        "labelExpr": "'@' + datum.value",
        "labelAngle": 90,
        "labelPadding": 25,
        "grid": false,
        "titlePadding": 14
      }
    },
    "y": {
      "field": "m",
      "type": "quantitative",
      "scale": {"domain": [-0.033, 0.632], "nice": false, "zero": false},
      "axis": {
        "title": "95% CI",
        "values": [0, 0.1, 0.2, 0.3, 0.4, 0.5, 0.6],
        "labelExpr": "replace(format(datum.value, '.1f'), '.', ',')",
        "labelFontSize": 32,
        "labelPadding": 12,
        "grid": true,
        "gridColor": "#c6c6c6",
        "gridWidth": 2.5,
        "titlePadding": 10
      }
    }
  },
  "layer": [
    {
      "mark": {"type": "errorbar", "thickness": 3, "opacity": 0.85},
      "encoding": {
        "yError": {"field": "e"},
        "color": {
          "field": "s",
          "type": "nominal",
          "scale": {"domain": ["ICA peeled", "FN proximal", "ICA normal", "FN distal"], "range": ["#b9e5b1", "#d5d9ef", "#f6c3d1", "#e6dd5e"]},
          "legend": null
        }
      }
    },
    {
      "mark": {"type": "circle", "size": 300, "opacity": 1},
      "encoding": {
        "color": {
          "field": "s",
          "type": "nominal",
          "scale": {"domain": ["ICA peeled", "FN proximal", "ICA normal", "FN distal"], "range": ["#c6ebbf", "#dcdff1", "#f8cbd7", "#e9e26c"]},
          "legend": null
        }
      }
    },
    {
      "mark": {"type": "square", "opacity": 0},
      "encoding": {
        "color": {
          "field": "s",
          "type": "nominal",
          "scale": {"domain": ["ICA peeled", "FN proximal", "ICA normal", "FN distal"], "range": ["#80d8a2", "#8c9fc8", "#f87d7e", "#e2c87c"]},
          "legend": {
            "title": null,
            "orient": "none",
            "legendX": 1355,
            "legendY": 103,
            "columns": 2,
            "direction": "horizontal",
            "symbolType": "square",
            "symbolSize": 961,
            "symbolStrokeWidth": 0,
            "symbolOpacity": 1,
            "labelFont": "Liberation Serif",
            "labelFontSize": 32,
            "labelColor": "#111111",
            "labelOffset": 11,
            "labelLimit": 400,
            "labelExpr": "indexof(datum.label, 'FN') == 0 ? '\u00a0\u00a0' + datum.label : datum.label",
            "rowPadding": 30,
            "columnPadding": 20,
            "padding": 0
          }
        }
      }
    }
  ],
  "resolve": {"scale": {"color": "independent"}}
}
